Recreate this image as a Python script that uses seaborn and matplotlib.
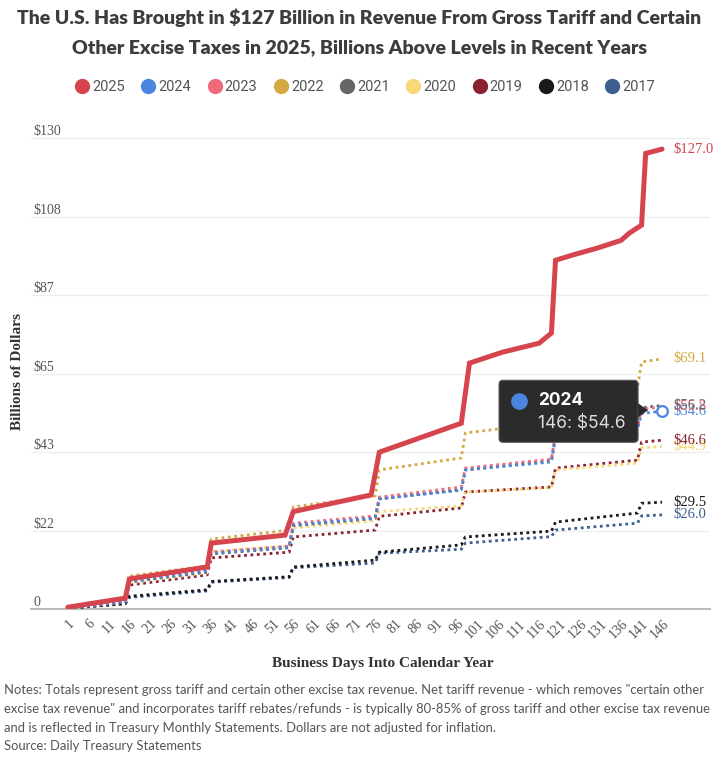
import numpy as np
import pandas as pd
import seaborn as sns
import matplotlib.pyplot as plt
import matplotlib.transforms as mtransforms
from matplotlib.patches import FancyBboxPatch, Polygon
from matplotlib.lines import Line2D

# data (billions of dollars, cumulative)
years = ['2025', '2024', '2023', '2022', '2021', '2020', '2019', '2018', '2017']
colors = {'2025': '#d6454e', '2024': '#4a86e0', '2023': '#f06a7a', '2022': '#d4a843',
          '2021': '#666666', '2020': '#f7d879', '2019': '#8b2232', '2018': '#1a1a1a',
          '2017': '#3d5f8f'}

days = [1, 15, 16, 35, 36, 55, 56, 76, 77, 97, 98, 119, 120, 140, 141, 146]
rev_2024 = [0.3, 2.0, 7.5, 10.5, 15.4, 17.1, 23.2, 25.2, 30.4, 32.8, 38.4, 40.6, 47.5, 49.5, 54.0, 54.6]
rev_2023 = [0.3, 2.2, 7.8, 10.8, 15.7, 17.4, 23.7, 25.7, 30.9, 33.7, 38.9, 41.4, 48.2, 50.2, 55.2, 55.8]
rev_2022 = [0.4, 2.5, 9.1, 11.9, 19.3, 21.8, 28.2, 31.2, 38.4, 41.7, 48.6, 51.5, 58.0, 61.0, 68.2, 69.1]
rev_2021 = [0.3, 2.0, 7.5, 10.2, 15.2, 16.9, 23.0, 25.0, 30.4, 33.0, 38.4, 41.0, 48.0, 50.5, 55.6, 56.2]
rev_2020 = [0.3, 2.0, 7.2, 10.0, 15.9, 17.3, 22.4, 24.4, 26.9, 28.5, 32.3, 33.5, 38.4, 40.3, 44.5, 44.9]
rev_2019 = [0.2, 1.8, 6.6, 9.4, 14.1, 15.7, 19.9, 21.8, 25.6, 27.9, 32.3, 33.7, 38.9, 41.1, 46.1, 46.6]
rev_2018 = [0.2, 1.5, 3.5, 5.3, 7.6, 8.9, 11.6, 13.5, 15.7, 17.7, 19.9, 21.5, 24.0, 26.5, 29.2, 29.5]
rev_2017 = [0.2, 1.4, 3.2, 5.0, 7.4, 8.7, 11.4, 12.7, 15.4, 16.5, 18.2, 20.0, 21.8, 23.7, 25.7, 26.0]

days_2025 = [1, 15, 16, 35, 36, 54, 56, 75, 77, 97, 99, 107, 116, 119, 120, 124, 130, 136, 138,
             141, 142, 146]
rev_2025 = [0.5, 3.0, 8.3, 11.6, 18.2, 20.4, 26.9, 31.5, 43.3, 51.3, 67.9, 70.9, 73.4, 76.2,
            96.3, 97.7, 99.6, 101.8, 103.8, 106.0, 125.8, 127.0]

ytick_vals = [0, 130 / 6, 260 / 6, 65, 520 / 6, 650 / 6, 130]
ytick_labels = ['0', '$22', '$43', '$65', '$87', '$108', '$130']
xtick_vals = list(range(1, 147, 5))

title = ('The U.S. Has Brought in $127 Billion in Revenue From Gross Tariff and Certain\n'
         'Other Excise Taxes in 2025, Billions Above Levels in Recent Years')
notes = ('Notes: Totals represent gross tariff and certain other excise tax revenue. Net tariff revenue - which removes "certain other\n'
         'excise tax revenue" and incorporates tariff rebates/refunds - is typically 80-85% of gross tariff and other excise tax revenue\n'
         'and is reflected in Treasury Monthly Statements. Dollars are not adjusted for inflation.\n'
         'Source: Daily Treasury Statements')

series = {'2024': rev_2024, '2023': rev_2023, '2022': rev_2022, '2021': rev_2021,
          '2020': rev_2020, '2019': rev_2019, '2018': rev_2018, '2017': rev_2017}

rows = [(y, d, v) for y, vals in series.items() for d, v in zip(days, vals)]
rows += [('2025', d, v) for d, v in zip(days_2025, rev_2025)]
df = pd.DataFrame(rows, columns=['year', 'day', 'revenue'])

sns.set_theme(style='white')
plt.rcParams['font.family'] = ['Lato', 'DejaVu Sans']

fig = plt.figure(figsize=(7.19, 7.57), dpi=100)
ax = fig.add_axes([31 / 719, 148 / 757, 679 / 719, 478 / 757])

serif = ['Liberation Serif', 'DejaVu Serif']

# draw older years first, 2025 on top
for yr in years[::-1]:
    sub = df[df['year'] == yr]
    if yr == '2025':
        sns.lineplot(data=sub, x='day', y='revenue', ax=ax, color=colors[yr], lw=3.6,
                     estimator=None, sort=False, zorder=5, solid_joinstyle='miter')
    else:
        sns.lineplot(data=sub, x='day', y='revenue', ax=ax, color=colors[yr], lw=2.0,
                     estimator=None, sort=False, linestyle=(0, (1, 1.3)), zorder=3)

# end value labels
label_order = ['2017', '2018', '2020', '2019', '2024', '2023', '2021', '2022', '2025']
for yr in label_order:
    sub = df[df['year'] == yr]
    last = sub.iloc[-1]
    ax.annotate(f"${last['revenue']:.1f}", (last['day'], last['revenue']), xytext=(8, 0),
                textcoords='offset points', va='center', ha='left', fontsize=10.5,
                color=colors[yr], family=serif, zorder=6)

ax.set_xlim(-8, 157.7)
ax.set_ylim(0, 132)
ax.set_yticks(ytick_vals)
ax.set_yticklabels(ytick_labels, family=serif, fontsize=10, color='#555555')
ax.tick_params(axis='y', length=0, pad=-2)
for lab in ax.get_yticklabels():
    lab.set_horizontalalignment('left')
    lab.set_verticalalignment('bottom')
ax.set_xticks(xtick_vals)
ax.set_xticklabels([str(v) for v in xtick_vals], rotation=45, ha='right',
                   rotation_mode='anchor', family=serif, fontsize=10, color='#555555')
ax.tick_params(axis='x', length=0, pad=6)
ax.grid(axis='y', color='#eeeeee', lw=1)
ax.set_axisbelow(True)
for s in ['top', 'right', 'left']:
    ax.spines[s].set_visible(False)
ax.spines['bottom'].set_color('#bbbbbb')
ax.spines['bottom'].set_linewidth(1.5)
ax.set_xlabel('')
ax.set_ylabel('')

# tooltip on the 2024 point
pt_day, pt_val = days[-1], rev_2024[-1]
ax.scatter([pt_day], [pt_val], s=60, facecolor='white', edgecolor=colors['2024'], lw=1.6,
           zorder=8)
tr = mtransforms.IdentityTransform() + mtransforms.ScaledTranslation(pt_day, pt_val, ax.transData)
box = FancyBboxPatch((-163, -31), 139, 62, boxstyle='round,pad=0,rounding_size=4',
                     transform=tr, facecolor='#2b2b2b', edgecolor='#555555', lw=0.8,
                     zorder=9, clip_on=False)
fig.add_artist(box)
tip = Polygon([(-24, 8), (-14, 1), (-24, -6)], closed=True, transform=tr,
              facecolor='#2b2b2b', edgecolor='none', zorder=9, clip_on=False)
fig.add_artist(tip)
fig.add_artist(Line2D([-143], [10], marker='o', markersize=11, color=colors['2024'],
                      transform=tr, zorder=10))
fig.text(-124, 11, '2024', transform=tr, color='white', fontsize=12.5, weight='bold',
         family=['Inter', 'DejaVu Sans'], va='center', ha='left', zorder=10)
fig.text(-124, -12, '146: $54.6', transform=tr, color='#dddddd', fontsize=12.5,
         family=['Inter', 'DejaVu Sans'], va='center', ha='left', zorder=10)

# titles and labels
fig.text(0.5, 1 - 32 / 757, title, ha='center', va='center', fontsize=14, weight='heavy',
         color='#3d3d3d', linespacing=1.85)

handles = [Line2D([], [], marker='o', ls='', markersize=10, color=colors[y]) for y in years]
fig.legend(handles, years, loc='center', bbox_to_anchor=(365 / 719, 1 - 87 / 757), ncol=9,
           frameon=False, handletextpad=0.2, columnspacing=1.1, handlelength=1.0,
           prop={'family': ['Roboto', 'DejaVu Sans'], 'size': 10.5}, labelcolor='#555555')

fig.text(18 / 719, 1 - 372 / 757, 'Billions of Dollars', rotation=90, ha='center', va='center',
         family=serif, weight='bold', fontsize=11, color='#333333')
fig.text(383 / 719, 1 - 663 / 757, 'Business Days Into Calendar Year', ha='center', va='center',
         family=serif, weight='bold', fontsize=11, color='#333333')
fig.text(4 / 719, 1 - 684 / 757, notes, ha='left', va='top', fontsize=9.4, color='#555555',
         linespacing=1.68)

fig.savefig('out.png', dpi=100)
